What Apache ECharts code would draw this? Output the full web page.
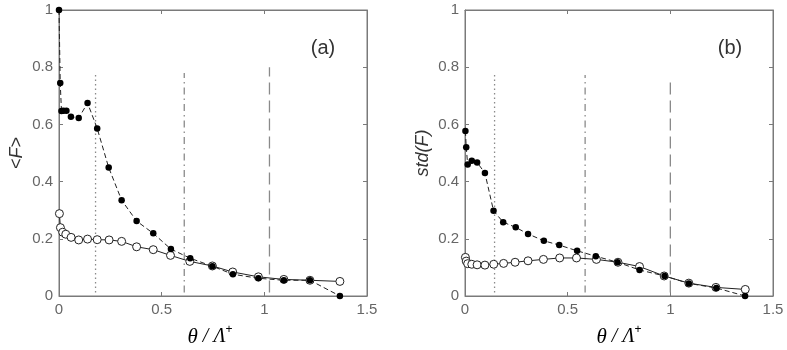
<!DOCTYPE html>
<html>
<head>
<meta charset="utf-8">
<script src="https://cdn.jsdelivr.net/npm/echarts@6/dist/echarts.min.js"></script>
<style>
html,body{margin:0;padding:0;background:#fff}
#chart{width:787px;height:350px}
</style>
</head>
<body>
<div id="chart"></div>
<script>
// panel (a) : <F>
let xFilledA = [0.0, 0.006, 0.012, 0.021, 0.036, 0.058, 0.096, 0.139, 0.186, 0.242, 0.305, 0.378, 0.459, 0.545, 0.639, 0.747, 0.847, 0.971, 1.095, 1.222, 1.368]
let yFilledA = [1.0, 0.745, 0.647, 0.648, 0.648, 0.627, 0.622, 0.675, 0.586, 0.449, 0.335, 0.262, 0.219, 0.164, 0.132, 0.104, 0.076, 0.062, 0.055, 0.055, 0.0]
let xOpenA = [0.002, 0.007, 0.018, 0.033, 0.059, 0.096, 0.139, 0.186, 0.244, 0.305, 0.378, 0.459, 0.543, 0.637, 0.747, 0.846, 0.971, 1.095, 1.222, 1.368]
let yOpenA = [0.288, 0.239, 0.223, 0.216, 0.205, 0.196, 0.199, 0.197, 0.196, 0.191, 0.172, 0.162, 0.142, 0.121, 0.105, 0.084, 0.067, 0.058, 0.055, 0.051]
let vlineXA = [0.178, 0.61, 1.025]
let vlineTopA = [0.776, 0.78, 0.8]

// panel (b) : std(F)
let xFilledB = [0.002, 0.006, 0.013, 0.033, 0.059, 0.097, 0.139, 0.186, 0.247, 0.307, 0.384, 0.459, 0.546, 0.637, 0.743, 0.85, 0.972, 1.09, 1.224, 1.364]
let yFilledB = [0.577, 0.52, 0.46, 0.473, 0.467, 0.43, 0.298, 0.258, 0.24, 0.217, 0.193, 0.178, 0.158, 0.139, 0.118, 0.091, 0.07, 0.044, 0.028, 0.0]
let xOpenB = [0.002, 0.006, 0.013, 0.033, 0.059, 0.097, 0.14, 0.188, 0.244, 0.307, 0.382, 0.461, 0.543, 0.64, 0.745, 0.85, 0.97, 1.09, 1.222, 1.365]
let yOpenB = [0.135, 0.122, 0.113, 0.111, 0.109, 0.108, 0.111, 0.114, 0.118, 0.123, 0.128, 0.133, 0.133, 0.128, 0.118, 0.103, 0.07, 0.045, 0.03, 0.023]
let vlineXB = [0.144, 0.585, 1.0]
let vlineTopB = [0.776, 0.773, 0.765]

// dotted, dash-dot, dashed
let vlineTypes = [[1.5, 3], [7, 4, 1.5, 4], [12, 6]]

let axisGray = '#7a7a7a'
let labelGray = '#666'

function pairs(xs, ys) {
    return xs.map((x, i) => [x, ys[i]])
}

let instance = echarts.init(document.getElementById('chart'))

function fmt(v) {
    return String(+v.toFixed(1))
}

function xAxes(grid, bottom) {
    return {
        gridIndex: grid,
        type: 'value',
        position: bottom ? 'bottom' : 'top',
        min: 0, max: 1.5, interval: 0.5,
        axisLine: { show: true, onZero: false, lineStyle: { color: axisGray, width: 1 } },
        axisTick: { show: true, inside: true, length: 4, lineStyle: { color: axisGray } },
        axisLabel: { show: bottom, color: labelGray, fontSize: 15, fontFamily: 'Liberation Sans', margin: 6, formatter: fmt },
        splitLine: { show: false }
    }
}
function yAxes(grid, left, name) {
    return {
        gridIndex: grid,
        type: 'value',
        position: left ? 'left' : 'right',
        min: 0, max: 1, interval: 0.2,
        name: left ? name : '',
        nameLocation: 'middle',
        nameRotate: 90,
        nameGap: 33,
        nameTextStyle: {
            color: '#333', fontSize: 18, fontFamily: 'Liberation Sans',
            rich: { i: { fontStyle: 'italic', fontSize: 18, color: '#333', fontFamily: 'Liberation Sans' } }
        },
        axisLine: { show: true, onZero: false, lineStyle: { color: axisGray, width: 1 } },
        axisTick: { show: true, inside: true, length: 4, lineStyle: { color: axisGray } },
        axisLabel: { show: left, color: labelGray, fontSize: 15, fontFamily: 'Liberation Sans', margin: 6, formatter: fmt },
        splitLine: { show: false }
    }
}

function panelSeries(xAxisIndex, yAxisIndex, xo, yo, xf, yf, vx, vt) {
    let list = []
    vx.forEach((x, i) => {
        list.push({
            type: 'line',
            xAxisIndex, yAxisIndex,
            data: [[x, 0.012], [x, vt[i]]],
            symbol: 'none',
            lineStyle: { color: '#8a8a8a', width: 1.3, type: vlineTypes[i] },
            z: 1, silent: true
        })
    })
    list.push({
        type: 'line',
        xAxisIndex, yAxisIndex,
        data: pairs(xo, yo),
        symbol: 'circle',
        symbolSize: 8,
        itemStyle: { color: '#fff', borderColor: '#222', borderWidth: 1 },
        lineStyle: { color: '#222', width: 1 },
        z: 3
    })
    list.push({
        type: 'line',
        xAxisIndex, yAxisIndex,
        data: pairs(xf, yf),
        symbol: 'circle',
        symbolSize: 6.5,
        itemStyle: { color: '#000', borderWidth: 0 },
        lineStyle: { color: '#222', width: 1, type: [5, 3] },
        z: 4
    })
    return list
}

let xName = '{t|θ}{s| / Λ}{p|+}'
let xNameRich = {
    t: { fontFamily: 'Liberation Serif', fontStyle: 'italic', fontSize: 21, color: '#444' },
    s: { fontFamily: 'Liberation Serif', fontStyle: 'italic', fontSize: 20, color: '#444' },
    p: { fontFamily: 'Liberation Sans', fontSize: 12, color: '#444', padding: [0, 0, 14, 0] }
}

let option = {
    animation: false,
    backgroundColor: '#fff',
    grid: [
        { left: 59, top: 10, width: 308, height: 286, show: true, borderColor: axisGray, borderWidth: 1, backgroundColor: 'transparent' },
        { left: 465, top: 10, width: 308, height: 286, show: true, borderColor: axisGray, borderWidth: 1, backgroundColor: 'transparent' }
    ],
    xAxis: [xAxes(0, true), xAxes(0, false), xAxes(1, true), xAxes(1, false)],
    yAxis: [yAxes(0, true, '<{i|F}>'), yAxes(0, false), yAxes(1, true, '{i|std(F)}'), yAxes(1, false)],
    series: [].concat(
        panelSeries(0, 0, xOpenA, yOpenA, xFilledA, yFilledA, vlineXA, vlineTopA),
        panelSeries(2, 2, xOpenB, yOpenB, xFilledB, yFilledB, vlineXB, vlineTopB)
    ),
    graphic: [
        { type: 'text', x: 323, y: 48, style: { text: '(a)', font: '20px "Liberation Sans"', fill: '#333', align: 'center', verticalAlign: 'middle' } },
        { type: 'text', x: 730, y: 48, style: { text: '(b)', font: '20px "Liberation Sans"', fill: '#333', align: 'center', verticalAlign: 'middle' } },
        { type: 'text', x: 210, y: 337, style: { text: xName, rich: xNameRich, align: 'center', verticalAlign: 'middle' } },
        { type: 'text', x: 619, y: 337, style: { text: xName, rich: xNameRich, align: 'center', verticalAlign: 'middle' } }
    ]
}
instance.setOption(option)
</script>
</body>
</html>
